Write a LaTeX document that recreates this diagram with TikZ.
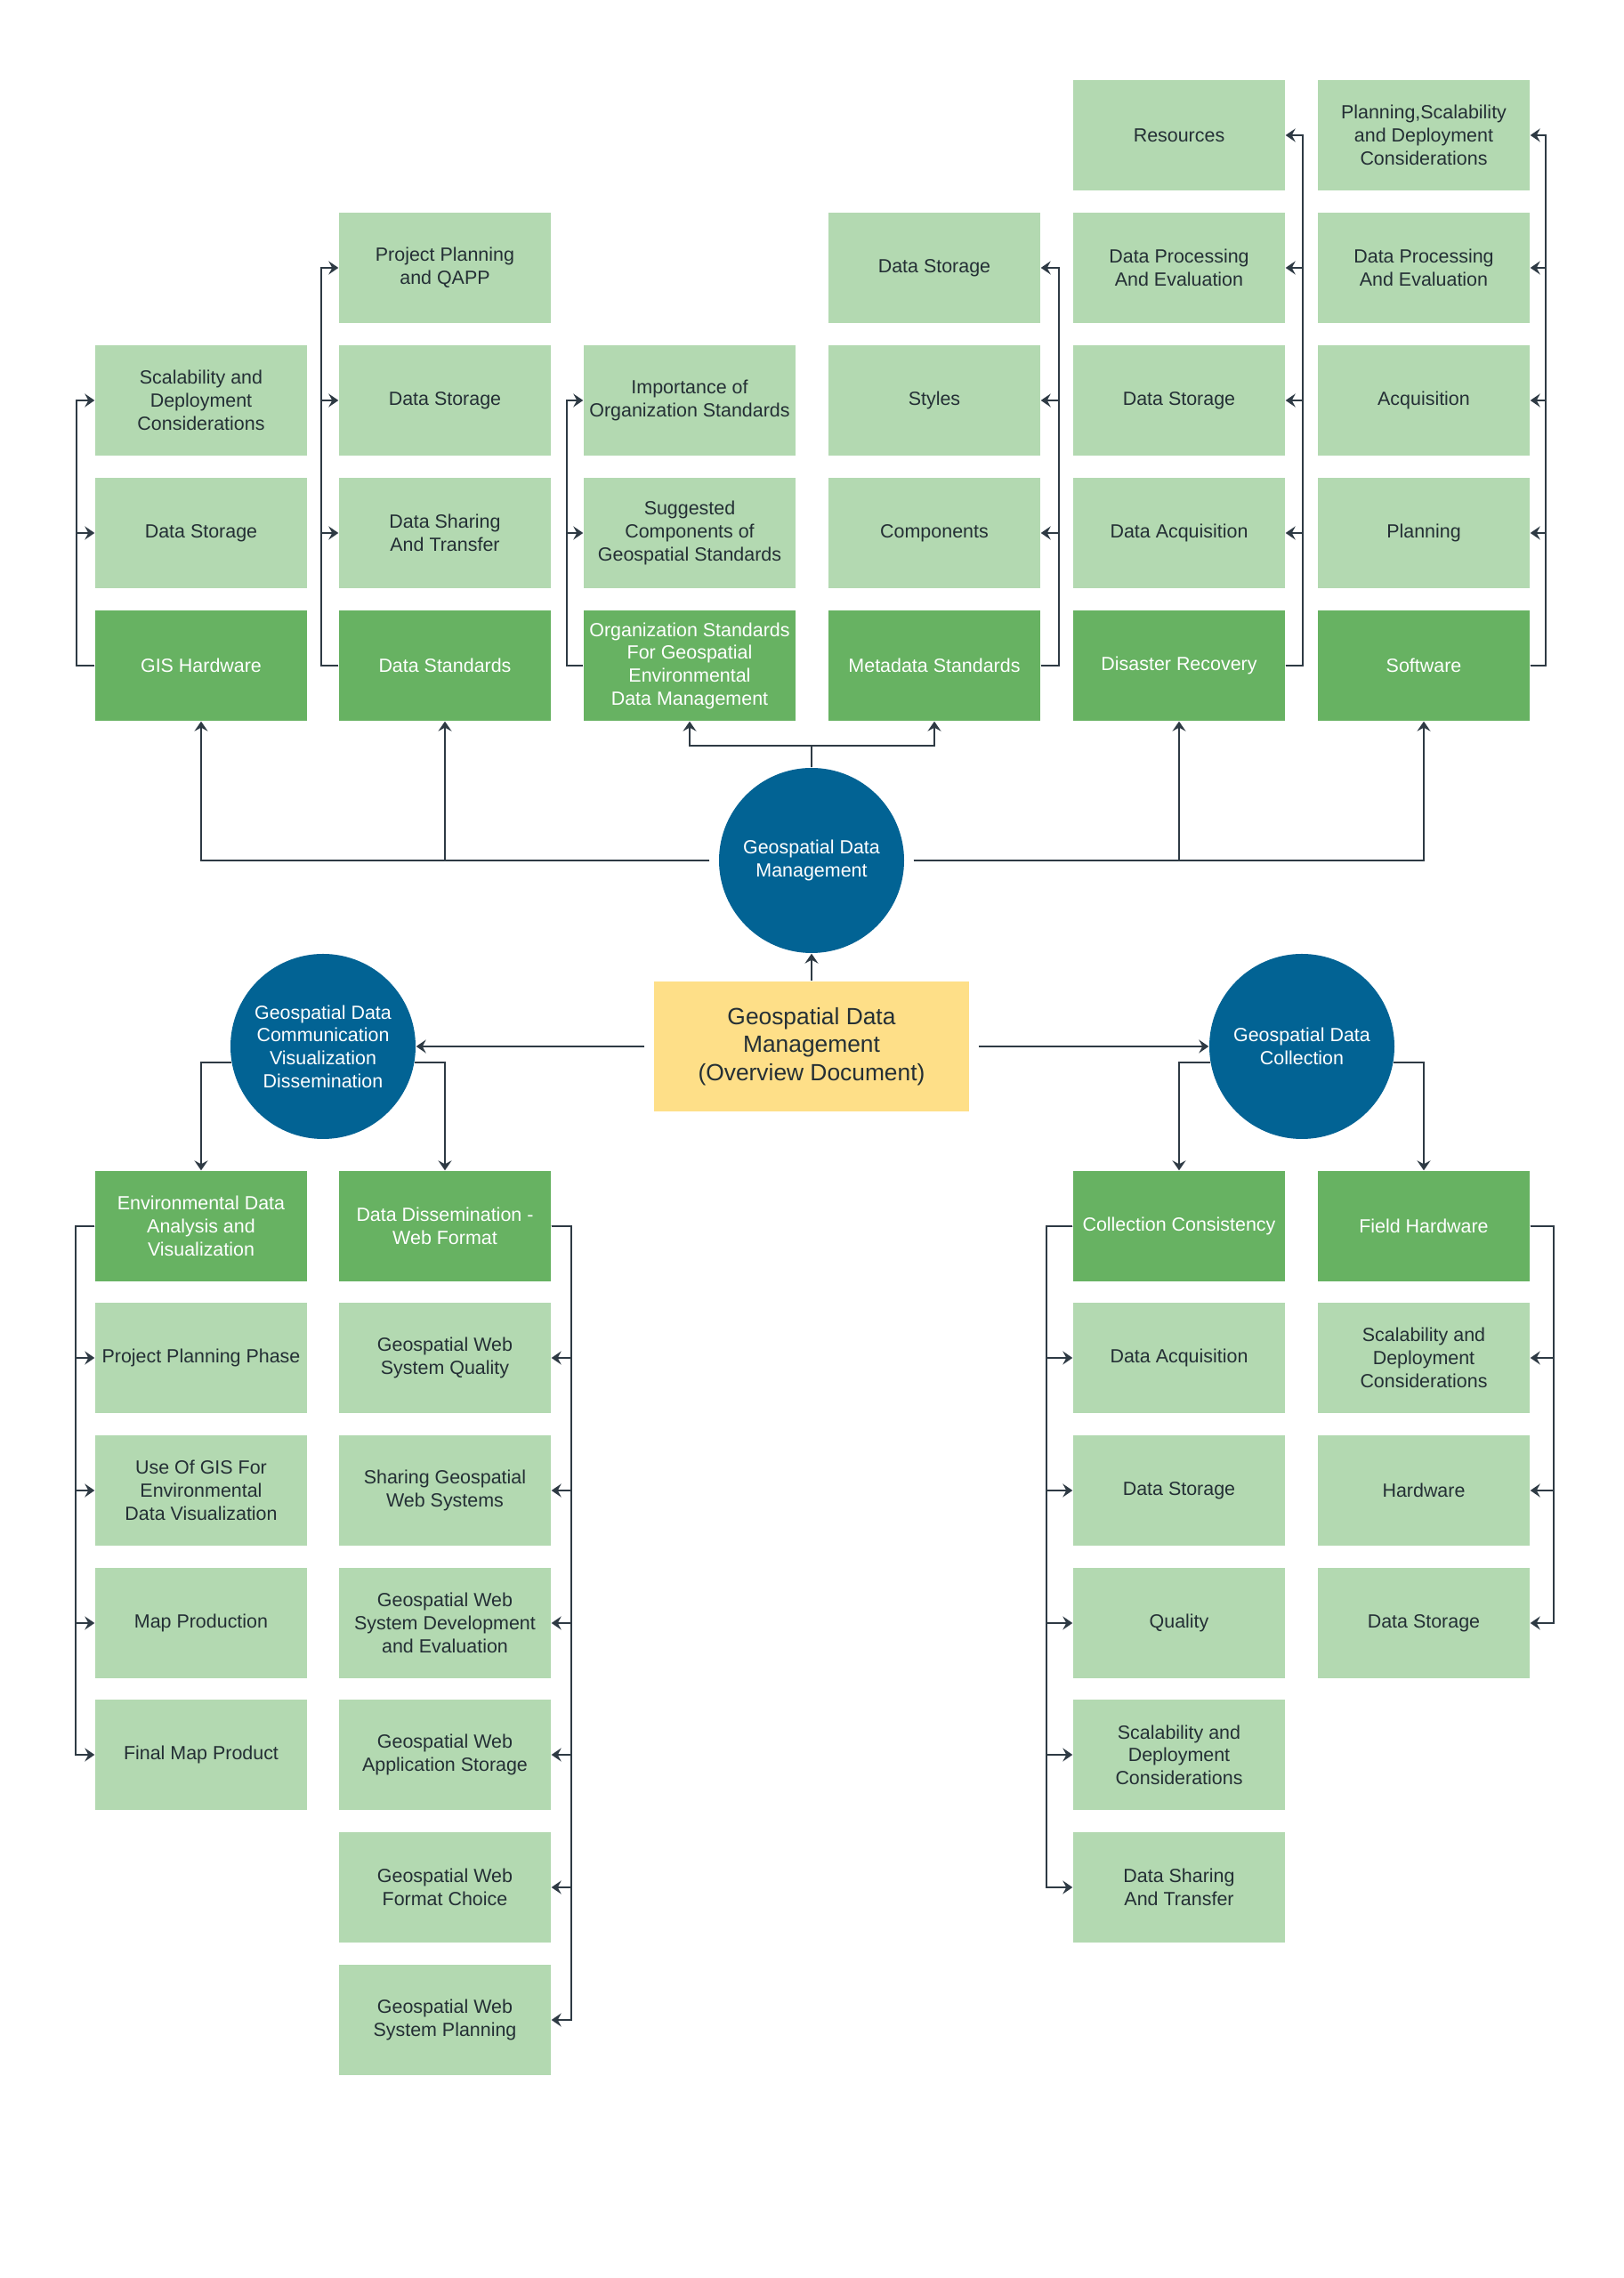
\documentclass[tikz,border=0pt]{standalone}
\usepackage{fontspec}
\setmainfont{Liberation Sans}
\definecolor{leafgreen}{RGB}{179, 217, 177}
\definecolor{headgreen}{RGB}{103, 178, 98}
\definecolor{hubblue}{RGB}{2, 99, 148}
\definecolor{docyellow}{RGB}{254, 223, 136}
\definecolor{linkgray}{RGB}{46, 58, 68}
\definecolor{textgray}{RGB}{36, 47, 53}
\usetikzlibrary{arrows.meta}

\begin{document}
\begin{tikzpicture}[
    leaf/.style={fill=leafgreen, text=textgray, minimum width=2.38cm, minimum height=1.24cm, inner sep=0pt, align=center, font=\fontsize{6.1}{7.3}\selectfont},
    head/.style={leaf, fill=headgreen, text=white},
    hub/.style={circle, fill=hubblue, text=white, minimum size=2.08cm, inner sep=0pt, align=center, font=\fontsize{6.1}{7.3}\selectfont},
    doc/.style={fill=docyellow, text=textgray, minimum width=3.54cm, minimum height=1.46cm, inner sep=0pt, align=center, font=\fontsize{7.5}{9}\selectfont},
    arr/.style={draw=linkgray, line width=0.6pt, -{Stealth[length=1.1mm, width=1.5mm, inset=0.4mm]}}
  ]
  \fill[white] (0,0) rectangle (18.25,25.6);
  \useasboundingbox (0,0) rectangle (18.25,25.6);

  % Top columns
  \node[head] (gisHw) at (2.26,18.12) {GIS Hardware};
  \node[leaf] (dataSt1) at (2.26,19.61) {Data Storage};
  \node[leaf] (scal1) at (2.26,21.10) {Scalability and\\Deployment\\Considerations};

  \node[head] (dataStd) at (5.00,18.12) {Data Standards};
  \node[leaf] (share1) at (5.00,19.61) {Data Sharing\\And Transfer};
  \node[leaf] (dataSt2) at (5.00,21.10) {Data Storage};
  \node[leaf] (projPlan) at (5.00,22.59) {Project Planning\\and QAPP};

  \node[head] (orgStd) at (7.75,18.12) {Organization Standards\\For Geospatial\\Environmental\\Data Management};
  \node[leaf] (suggest) at (7.75,19.61) {Suggested\\Components of\\Geospatial Standards};
  \node[leaf] (importance) at (7.75,21.10) {Importance of\\Organization Standards};

  \node[head] (metaStd) at (10.50,18.12) {Metadata Standards};
  \node[leaf] (comps) at (10.50,19.61) {Components};
  \node[leaf] (styles) at (10.50,21.10) {Styles};
  \node[leaf] (dataSt3) at (10.50,22.59) {Data Storage};

  \node[head] (disaster) at (13.25,18.12) {Disaster Recovery};
  \node[leaf] (acq1) at (13.25,19.61) {Data Acquisition};
  \node[leaf] (dataSt4) at (13.25,21.10) {Data Storage};
  \node[leaf] (proc1) at (13.25,22.59) {Data Processing\\And Evaluation};
  \node[leaf] (resources) at (13.25,24.08) {Resources};

  \node[head] (software) at (16.00,18.12) {Software};
  \node[leaf] (planning) at (16.00,19.61) {Planning};
  \node[leaf] (acq2) at (16.00,21.10) {Acquisition};
  \node[leaf] (proc2) at (16.00,22.59) {Data Processing\\And Evaluation};
  \node[leaf] (planScal) at (16.00,24.08) {Planning,Scalability\\and Deployment\\Considerations};

  % Hubs
  \node[hub] (gdm) at (9.12,15.93) {Geospatial Data\\Management};
  \node[doc] (overview) at (9.12,13.84) {Geospatial Data\\Management\\(Overview Document)};
  \node[hub] (comm) at (3.63,13.84) {Geospatial Data\\Communication\\Visualization\\Dissemination};
  \node[hub] (coll) at (14.63,13.84) {Geospatial Data\\Collection};

  % Bottom columns
  \node[head] (envData) at (2.26,11.82) {Environmental Data\\Analysis and\\Visualization};
  \node[leaf] (projPhase) at (2.26,10.34) {Project Planning Phase};
  \node[leaf] (useGis) at (2.26,8.85) {Use Of GIS For\\Environmental\\Data Visualization};
  \node[leaf] (mapProd) at (2.26,7.36) {Map Production};
  \node[leaf] (finalMap) at (2.26,5.88) {Final Map Product};

  \node[head] (dissem) at (5.00,11.82) {Data Dissemination -\\Web Format};
  \node[leaf] (webQual) at (5.00,10.34) {Geospatial Web\\System Quality};
  \node[leaf] (sharing) at (5.00,8.85) {Sharing Geospatial\\Web Systems};
  \node[leaf] (webDev) at (5.00,7.36) {Geospatial Web\\System Development\\and Evaluation};
  \node[leaf] (webApp) at (5.00,5.88) {Geospatial Web\\Application Storage};
  \node[leaf] (webFmt) at (5.00,4.39) {Geospatial Web\\Format Choice};
  \node[leaf] (webPlan) at (5.00,2.90) {Geospatial Web\\System Planning};

  \node[head] (collCons) at (13.25,11.82) {Collection Consistency};
  \node[leaf] (acq3) at (13.25,10.34) {Data Acquisition};
  \node[leaf] (dataSt5) at (13.25,8.85) {Data Storage};
  \node[leaf] (quality) at (13.25,7.36) {Quality};
  \node[leaf] (scal2) at (13.25,5.88) {Scalability and\\Deployment\\Considerations};
  \node[leaf] (share2) at (13.25,4.39) {Data Sharing\\And Transfer};

  \node[head] (fieldHw) at (16.00,11.82) {Field Hardware};
  \node[leaf] (scal3) at (16.00,10.34) {Scalability and\\Deployment\\Considerations};
  \node[leaf] (hardware) at (16.00,8.85) {Hardware};
  \node[leaf] (dataSt6) at (16.00,7.36) {Data Storage};

  % Top buses
  \draw[arr] (gisHw.west) -- ++(-0.2,0) |- (dataSt1.west);
  \draw[arr] (gisHw.west) -- ++(-0.2,0) |- (scal1.west);
  \draw[arr] (dataStd.west) -- ++(-0.19,0) |- (share1.west);
  \draw[arr] (dataStd.west) -- ++(-0.19,0) |- (dataSt2.west);
  \draw[arr] (dataStd.west) -- ++(-0.19,0) |- (projPlan.west);
  \draw[arr] (orgStd.west) -- ++(-0.18,0) |- (suggest.west);
  \draw[arr] (orgStd.west) -- ++(-0.18,0) |- (importance.west);
  \draw[arr] (metaStd.east) -- ++(0.2,0) |- (comps.east);
  \draw[arr] (metaStd.east) -- ++(0.2,0) |- (styles.east);
  \draw[arr] (metaStd.east) -- ++(0.2,0) |- (dataSt3.east);
  \draw[arr] (disaster.east) -- ++(0.19,0) |- (acq1.east);
  \draw[arr] (disaster.east) -- ++(0.19,0) |- (dataSt4.east);
  \draw[arr] (disaster.east) -- ++(0.19,0) |- (proc1.east);
  \draw[arr] (disaster.east) -- ++(0.19,0) |- (resources.east);
  \draw[arr] (software.east) -- ++(0.17,0) |- (planning.east);
  \draw[arr] (software.east) -- ++(0.17,0) |- (acq2.east);
  \draw[arr] (software.east) -- ++(0.17,0) |- (proc2.east);
  \draw[arr] (software.east) -- ++(0.17,0) |- (planScal.east);

  % Hub links
  \draw[arr, shorten <=1mm] (gdm.west) -| (gisHw.south);
  \draw[arr, shorten <=1mm] (gdm.west) -| (dataStd.south);
  \draw[arr, shorten <=1mm] (gdm.east) -| (disaster.south);
  \draw[arr, shorten <=1mm] (gdm.east) -| (software.south);
  \draw[arr] (gdm.north) -- ++(0,0.24) -| (orgStd.south);
  \draw[arr] (gdm.north) -- ++(0,0.24) -| (metaStd.south);
  \draw[arr] (overview.north) -- (gdm.south);
  \draw[arr, shorten <=1mm] (overview.west) -- (comm.east);
  \draw[arr, shorten <=1mm] (overview.east) -- (coll.west);
  \draw[arr] (comm.190) -| (envData.north);
  \draw[arr] (comm.350) -| (dissem.north);
  \draw[arr] (coll.190) -| (collCons.north);
  \draw[arr] (coll.350) -| (fieldHw.north);

  % Bottom buses
  \draw[arr] (envData.west) -- ++(-0.21,0) |- (projPhase.west);
  \draw[arr] (envData.west) -- ++(-0.21,0) |- (useGis.west);
  \draw[arr] (envData.west) -- ++(-0.21,0) |- (mapProd.west);
  \draw[arr] (envData.west) -- ++(-0.21,0) |- (finalMap.west);
  \draw[arr] (dissem.east) -- ++(0.22,0) |- (webQual.east);
  \draw[arr] (dissem.east) -- ++(0.22,0) |- (sharing.east);
  \draw[arr] (dissem.east) -- ++(0.22,0) |- (webDev.east);
  \draw[arr] (dissem.east) -- ++(0.22,0) |- (webApp.east);
  \draw[arr] (dissem.east) -- ++(0.22,0) |- (webFmt.east);
  \draw[arr] (dissem.east) -- ++(0.22,0) |- (webPlan.east);
  \draw[arr] (collCons.west) -- ++(-0.29,0) |- (acq3.west);
  \draw[arr] (collCons.west) -- ++(-0.29,0) |- (dataSt5.west);
  \draw[arr] (collCons.west) -- ++(-0.29,0) |- (quality.west);
  \draw[arr] (collCons.west) -- ++(-0.29,0) |- (scal2.west);
  \draw[arr] (collCons.west) -- ++(-0.29,0) |- (share2.west);
  \draw[arr] (fieldHw.east) -- ++(0.26,0) |- (scal3.east);
  \draw[arr] (fieldHw.east) -- ++(0.26,0) |- (hardware.east);
  \draw[arr] (fieldHw.east) -- ++(0.26,0) |- (dataSt6.east);
\end{tikzpicture}
\end{document}
